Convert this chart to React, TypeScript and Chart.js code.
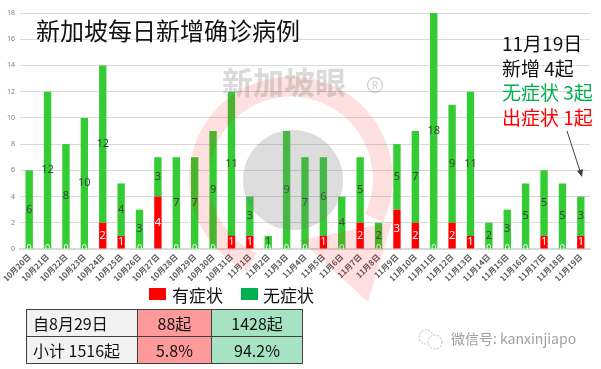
import React, { useEffect, useRef } from "react";
import { Chart, registerables } from "chart.js";

Chart.register(...registerables);

const categories = [
  "10月20日", "10月21日", "10月22日", "10月23日", "10月24日", "10月25日", "10月26日",
  "10月27日", "10月28日", "10月29日", "10月30日", "10月31日",
  "11月1日", "11月2日", "11月3日", "11月4日", "11月5日", "11月6日", "11月7日",
  "11月8日", "11月9日", "11月10日", "11月11日", "11月12日", "11月13日", "11月14日",
  "11月15日", "11月16日", "11月17日", "11月18日", "11月19日",
];
const symptomatic = [0, 0, 0, 0, 2, 1, 0, 4, 0, 0, 0, 1, 1, 0, 0, 0, 1, 0, 2, 0, 3, 2, 0, 2, 1, 0, 0, 0, 1, 0, 1];
const asymptomatic = [6, 12, 8, 10, 12, 4, 3, 3, 7, 7, 9, 11, 3, 1, 9, 7, 6, 4, 5, 2, 5, 7, 18, 9, 11, 2, 3, 5, 5, 5, 3];
const seriesNames = ["有症状", "无症状"];
const yMax = 18;
const yStep = 2;

const titleText = "新加坡每日新增确诊病例";
const noteLines = ["11月19日", "新增 4起", "无症状 3起", "出症状 1起"];
const tableRows = [
  ["自8月29日", "88起", "1428起"],
  ["小计 1516起", "5.8%", "94.2%"],
];

const FONT = '"Noto Sans CJK SC", "Noto Sans", sans-serif';

const labelPlugin = {
  id: "barLabels",
  afterDatasetsDraw(chart: any) {
    const ctx = chart.ctx;
    const a = chart.chartArea;
    ctx.save();
    ctx.beginPath();
    ctx.rect(a.left, a.top, a.right - a.left, a.bottom - a.top);
    ctx.clip();
    ctx.textAlign = "center";
    ctx.textBaseline = "middle";
    chart.data.datasets.forEach((ds: any, di: number) => {
      const meta = chart.getDatasetMeta(di);
      meta.data.forEach((el: any, i: number) => {
        const v = ds.data[i];
        const p = el.getProps(["x", "y", "base"], true);
        if (v === 0) {
          if (di !== 0) return;
          ctx.fillStyle = "#ffffff";
          ctx.font = `9px "Noto Sans", sans-serif`;
          ctx.fillText("0", p.x, p.base - 1);
          return;
        }
        const cy = (p.y + p.base) / 2;
        ctx.fillStyle = di === 0 ? "#ffffff" : "#404040";
        ctx.font = `11px "Noto Sans", sans-serif`;
        ctx.fillText(String(v), p.x, cy);
      });
    });
    ctx.restore();
  },
};

export default function App() {
  const ref = useRef<HTMLCanvasElement | null>(null);

  useEffect(() => {
    if (!ref.current) return;
    const chart = new Chart(ref.current, {
      type: "bar",
      data: {
        labels: categories,
        datasets: [
          {
            label: seriesNames[0],
            data: symptomatic,
            backgroundColor: "#ff0000",
            barPercentage: 0.4,
            categoryPercentage: 1,
          },
          {
            label: seriesNames[1],
            data: asymptomatic,
            backgroundColor: "#33cc33",
            barPercentage: 0.4,
            categoryPercentage: 1,
          },
        ],
      },
      options: {
        responsive: false,
        animation: false,
        devicePixelRatio: 1,
        layout: { padding: { left: 0, right: 11, top: 13, bottom: 88 } },
        plugins: {
          legend: { display: false },
          tooltip: { enabled: false },
        },
        scales: {
          x: {
            stacked: true,
            grid: { display: false, drawTicks: false },
            border: { display: true, color: "#d9d9d9", width: 2 },
            ticks: {
              autoSkip: false,
              minRotation: 45,
              maxRotation: 45,
              padding: 3,
              color: "#595959",
              font: { size: 8, weight: "bold", family: '"Noto Sans CJK SC", sans-serif' },
            },
            afterFit: (s: any) => {
              s.height = 32;
            },
          },
          y: {
            stacked: true,
            min: 0,
            max: yMax,
            ticks: {
              stepSize: yStep,
              padding: 5,
              color: "#7f7f7f",
              font: { size: 7, family: '"Noto Sans", sans-serif' },
            },
            grid: { color: "#d9d9d9", drawTicks: false },
            border: { display: false },
            afterFit: (s: any) => {
              s.width = 20;
            },
          },
        },
      } as any,
      plugins: [labelPlugin],
    });
    return () => chart.destroy();
  }, []);

  const abs = (o: React.CSSProperties): React.CSSProperties => ({ position: "absolute", ...o });
  const cellBase: React.CSSProperties = {
    border: "1px solid #404040",
    fontSize: 16,
    height: 26,
    padding: 0,
    color: "#111",
    fontFamily: FONT,
  };

  return (
    <div style={{ position: "absolute", left: 0, top: 0, width: 601, height: 369, background: "#fff", overflow: "hidden", fontFamily: FONT }}>
      <canvas ref={ref} width={601} height={369} style={{ position: "absolute", left: 0, top: 0, width: 601, height: 369 }} />

      <svg width={601} height={369} style={{ position: "absolute", left: 0, top: 0, pointerEvents: "none" }}>
        <path d="M 252 262 A 92 92 0 1 1 374 218" fill="none" stroke="rgba(255,0,0,0.12)" strokeWidth={20} />
        <polygon points="300,240 392,222 368,302" fill="rgba(255,0,0,0.12)" />
        <circle cx={293} cy={180} r={50} fill="rgba(120,120,120,0.25)" />
        <text x={222} y={94} fontSize={31} fontWeight="bold" fill="rgba(140,140,140,0.32)" fontFamily={FONT}>新加坡眼</text>
        <circle cx={375} cy={85} r={7.5} fill="none" stroke="rgba(140,140,140,0.4)" strokeWidth={1.3} />
        <text x={375} y={89} fontSize={10} textAnchor="middle" fill="rgba(140,140,140,0.45)" fontFamily={FONT}>R</text>
        <line x1={567} y1={131} x2={580} y2={171} stroke="#404040" strokeWidth={1} />
        <polygon points="582,177 583,169 577,171" fill="#404040" />
        <circle cx={426} cy={337} r={7} fill="none" stroke="#bbb" strokeWidth={1} strokeDasharray="2,1.5" />
        <circle cx={435} cy={342} r={7} fill="#fff" stroke="#bbb" strokeWidth={1} strokeDasharray="2,1.5" />
      </svg>

      <div style={abs({ left: 36, top: 17, fontSize: 24, lineHeight: "26px", color: "#111", whiteSpace: "nowrap" })}>{titleText}</div>

      <div style={abs({ left: 502, top: 31, fontSize: 19, lineHeight: "24.7px", whiteSpace: "nowrap" })}>
        <div style={{ color: "#111" }}>{noteLines[0]}</div>
        <div style={{ color: "#111" }}>{noteLines[1]}</div>
        <div style={{ color: "#00b050" }}>{noteLines[2]}</div>
        <div style={{ color: "#ff0000" }}>{noteLines[3]}</div>
      </div>

      <div style={abs({ left: 149, top: 288, width: 17, height: 12, background: "#ff0000" })} />
      <div style={abs({ left: 172, top: 284, fontSize: 17, lineHeight: "22px", color: "#111" })}>{seriesNames[0]}</div>
      <div style={abs({ left: 241, top: 288, width: 17, height: 12, background: "#00b050" })} />
      <div style={abs({ left: 263, top: 284, fontSize: 17, lineHeight: "22px", color: "#111" })}>{seriesNames[1]}</div>

      <table style={abs({ left: 26, top: 309, borderCollapse: "collapse", width: 277 })}>
        <tbody>
          {tableRows.map((r, ri) => (
            <tr key={ri}>
              <td style={{ ...cellBase, width: 107, background: "#f2f2f2", textAlign: "left", paddingLeft: 6 }}>{r[0]}</td>
              <td style={{ ...cellBase, width: 75, background: "#ff9a9a", textAlign: "center" }}>{r[1]}</td>
              <td style={{ ...cellBase, width: 92, background: "#a6e3c3", textAlign: "center" }}>{r[2]}</td>
            </tr>
          ))}
        </tbody>
      </table>

      <div style={abs({ left: 451, top: 328, fontSize: 14, lineHeight: "20px", color: "#a0a0a0", whiteSpace: "nowrap" })}>微信号: kanxinjiapo</div>
    </div>
  );
}
